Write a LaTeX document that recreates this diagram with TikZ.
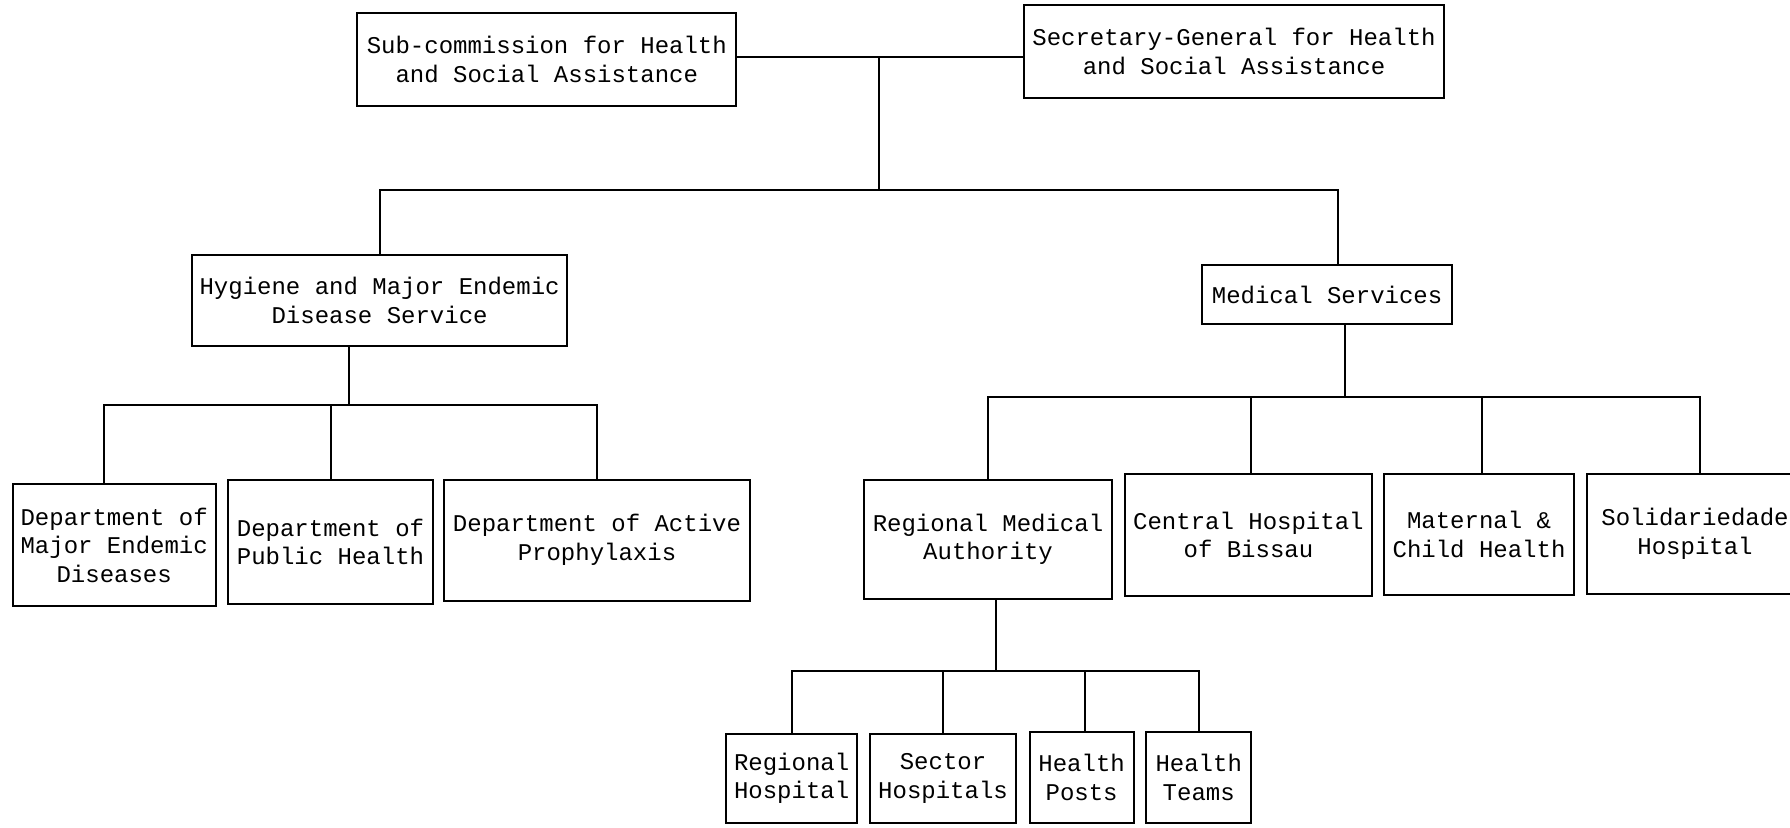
\documentclass[tikz,border=0pt]{standalone}
\usepackage{fontspec}
\setmonofont{Liberation Mono}
\begin{document}
\begin{tikzpicture}[x=1pt,y=-1pt,
  orgbox/.style={draw, line width=2pt, inner sep=0pt, align=center,
    font=\ttfamily\fontsize{24}{28.5}\selectfont},
  link/.style={line width=2pt}]
\clip (0,0) rectangle (1790,827);
\fill[white] (0,0) rectangle (1790,827);
% level 0
\node[orgbox, minimum width=379pt, minimum height=93.6pt] (sub) at (546.8,59.4) {Sub-commission for Health\\and Social Assistance};
\node[orgbox, minimum width=420pt, minimum height=93.6pt] (sec) at (1234,51.4) {Secretary-General for Health\\and Social Assistance};
% level 1
\node[orgbox, minimum width=375.6pt, minimum height=91.3pt] (hyg) at (379.6,300.2) {Hygiene and Major Endemic\\Disease Service};
\node[orgbox, minimum width=250pt, minimum height=59.3pt] (ms) at (1327.1,294.5) {Medical Services};
% level 2 left
\node[orgbox, minimum width=203.2pt, minimum height=122.2pt] (mend) at (114.2,545.1) {Department of\\Major Endemic\\Diseases};
\node[orgbox, minimum width=204.4pt, minimum height=124.4pt] (pubh) at (330.5,541.7) {Department of\\Public Health};
\node[orgbox, minimum width=306pt, minimum height=121pt] (aprop) at (597,540) {Department of Active\\Prophylaxis};
% level 2 right
\node[orgbox, minimum width=247.7pt, minimum height=119.8pt] (rma) at (988,539.4) {Regional Medical\\Authority};
\node[orgbox, minimum width=247.7pt, minimum height=122.1pt] (chb) at (1248.4,534.8) {Central Hospital\\of Bissau};
\node[orgbox, minimum width=190.7pt, minimum height=121pt] (mch) at (1479,534.3) {Maternal \&\\Child Health};
\node[orgbox, minimum width=216.4pt, minimum height=119.8pt] (sol) at (1695,533.7) {Solidariedade\\Hospital};
% level 3
\node[orgbox, minimum width=131.3pt, minimum height=89pt] (regh) at (791.6,778.5) {Regional\\Hospital};
\node[orgbox, minimum width=146.1pt, minimum height=89pt] (sech) at (943,778.5) {Sector\\Hospitals};
\node[orgbox, minimum width=103.9pt, minimum height=91pt] (hp) at (1081.6,777.5) {Health\\Posts};
\node[orgbox, minimum width=105pt, minimum height=91pt] (ht) at (1198.7,777.5) {Health\\Teams};
% junction coordinates
\coordinate (topj) at (879,57);
\coordinate (bus1) at (879,190);
\coordinate (hb) at (349.3,405.3);
\coordinate (mb) at (1344.8,397.3);
\coordinate (rb) at (995.5,671.3);
% connectors
\draw[link] (sub.east |- topj) -- (sec.west |- topj);
\draw[link] (topj) -- (bus1);
\draw[link] (hyg.north) |- (bus1) -| ([xshift=11pt]ms.north);
\draw[link] (hb |- hyg.south) -- (hb);
\draw[link] ([xshift=-10.3pt]mend.north) |- (aprop.north |- hb) -- (aprop.north);
\draw[link] (pubh.north) -- (pubh.north |- hb);
\draw[link] (mb |- ms.south) -- (mb);
\draw[link] (rma.north) |- ([xshift=5pt]sol.north |- mb) -- ([xshift=5pt]sol.north);
\draw[link] ([xshift=2.8pt]chb.north) -- ([xshift=2.8pt]chb.north |- mb);
\draw[link] ([xshift=2.8pt]mch.north) -- ([xshift=2.8pt]mch.north |- mb);
\draw[link] (rb |- rma.south) -- (rb);
\draw[link] (regh.north) |- (ht.north |- rb) -- (ht.north);
\draw[link] (sech.north) -- (sech.north |- rb);
\draw[link] ([xshift=2.9pt]hp.north) -- ([xshift=2.9pt]hp.north |- rb);
\end{tikzpicture}
\end{document}
